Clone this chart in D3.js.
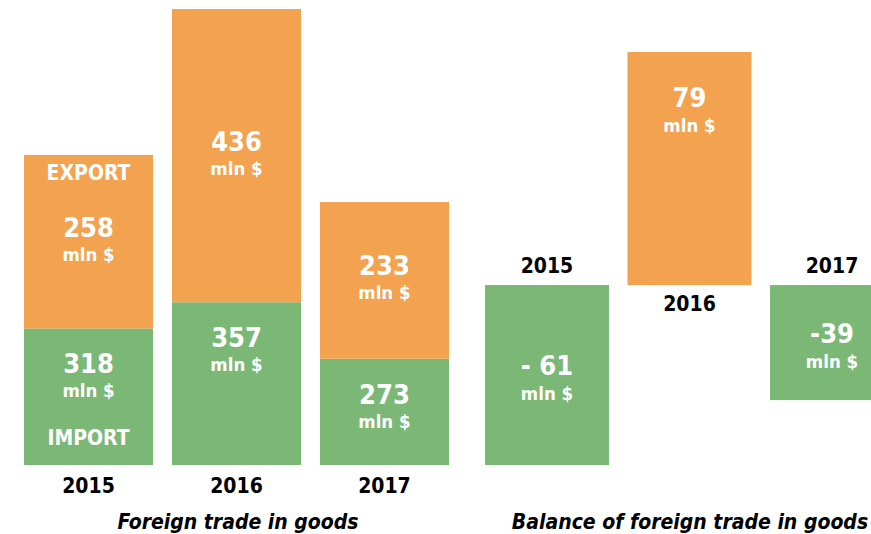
<!DOCTYPE html>
<html><head><meta charset="utf-8">
<script src="https://cdn.jsdelivr.net/npm/d3@7"></script>
<style>
html,body{margin:0;padding:0;background:#fff;overflow:hidden}
text{font-family:"DejaVu Sans Condensed","DejaVu Sans",sans-serif;font-weight:bold;font-stretch:condensed}
</style></head><body>
<svg id="c" width="871" height="534"></svg>
<script>
const years = ["2015","2016","2017"];
const imports = [318, 357, 273];
const exports_ = [258, 436, 233];
const balance = [-61, 79, -39];
const balanceLabels = ["- 61", "79", "-39"];
const unit = "mln $";
const leftTitle = "Foreign trade in goods";
const rightTitle = "Balance of foreign trade in goods";

const ORANGE = "#F3A250", GREEN = "#7BB876";
const svg = d3.select("#c");

// ---- Left: stacked bars ----
const xL = d3.scaleBand().domain(years).range([24, 449]).paddingInner(0.128).paddingOuter(0);
const totals = years.map((y,i)=>imports[i]+exports_[i]);
const yL = d3.scaleLinear().domain([115, d3.max(totals)]).range([465, 9]);
const base = yL.domain()[0];
const segs = [];
years.forEach((y,i)=>{
  segs.push({year:y, key:"imp", y0:base, y1:imports[i], v:imports[i]});
  segs.push({year:y, key:"exp", y0:imports[i], y1:imports[i]+exports_[i], v:exports_[i]});
});
const gL = svg.append("g");
gL.selectAll("rect").data(segs).join("rect")
  .attr("x", d=>xL(d.year)).attr("width", xL.bandwidth())
  .attr("y", d=>yL(d.y1)).attr("height", d=>yL(d.y0)-yL(d.y1))
  .attr("fill", d=>d.key==="imp"?GREEN:ORANGE);

segs.forEach(d=>{
  const cx = xL(d.year)+xL.bandwidth()/2;
  const top = yL(d.y1), bot = yL(d.y0);
  let ny = d.key==="imp" ? top+45 : (top+bot)/2-5;
  gL.append("text").attr("x",cx).attr("y",ny).attr("text-anchor","middle")
    .attr("fill","#fff").attr("font-size",27).text(d.v);
  gL.append("text").attr("x",cx).attr("y",ny+24).attr("text-anchor","middle")
    .attr("fill","#fff").attr("font-size",18.5).text(unit);
  if (d.year===years[0]) {
    if (d.key==="exp") gL.append("text").attr("x",cx).attr("y",top+25).attr("text-anchor","middle")
      .attr("fill","#fff").attr("font-size",21).text("EXPORT");
    else gL.append("text").attr("x",cx).attr("y",bot-20).attr("text-anchor","middle")
      .attr("fill","#fff").attr("font-size",21).text("IMPORT");
  }
});
gL.selectAll("text.yr").data(years).join("text").attr("class","yr")
  .attr("x", d=>xL(d)+xL.bandwidth()/2).attr("y", 493).attr("text-anchor","middle")
  .attr("fill","#000").attr("font-size",21).text(d=>d);
gL.append("text").attr("x",238).attr("y",529).attr("text-anchor","middle")
  .attr("font-style","italic").attr("font-size",21).attr("fill","#000").text(leftTitle);

// ---- Right: balance bars ----
const xR = d3.scaleBand().domain(years).range([485, 894]).paddingInner(0.13).paddingOuter(0);
const yR = d3.scaleLinear().domain([d3.min(balance), d3.max(balance)]).range([465, 52]);
const bd = years.map((y,i)=>({year:y, v:balance[i], lab:balanceLabels[i]}));
const gR = svg.append("g");
gR.selectAll("rect").data(bd).join("rect")
  .attr("x", d=>xR(d.year)).attr("width", xR.bandwidth())
  .attr("y", d=>yR(Math.max(0,d.v))).attr("height", d=>Math.abs(yR(d.v)-yR(0)))
  .attr("fill", d=>d.v<0?GREEN:ORANGE);
bd.forEach(d=>{
  const cx = xR(d.year)+xR.bandwidth()/2;
  const top = yR(Math.max(0,d.v)), bot = yR(Math.min(0,d.v));
  const ny = d.v<0 ? (top+bot)/2 : top+55;
  gR.append("text").attr("x",cx).attr("y",ny).attr("text-anchor","middle")
    .attr("fill","#fff").attr("font-size",27).text(d.lab);
  gR.append("text").attr("x",cx).attr("y",ny+25).attr("text-anchor","middle")
    .attr("fill","#fff").attr("font-size",18.5).text(unit);
  const ly = d.v<0 ? top-12 : bot+26;
  gR.append("text").attr("x",cx).attr("y",ly).attr("text-anchor","middle")
    .attr("fill","#000").attr("font-size",21).text(d.year);
});
gR.append("text").attr("x",690).attr("y",529).attr("text-anchor","middle")
  .attr("font-style","italic").attr("font-size",21).attr("fill","#000").text(rightTitle);
</script></body></html>
